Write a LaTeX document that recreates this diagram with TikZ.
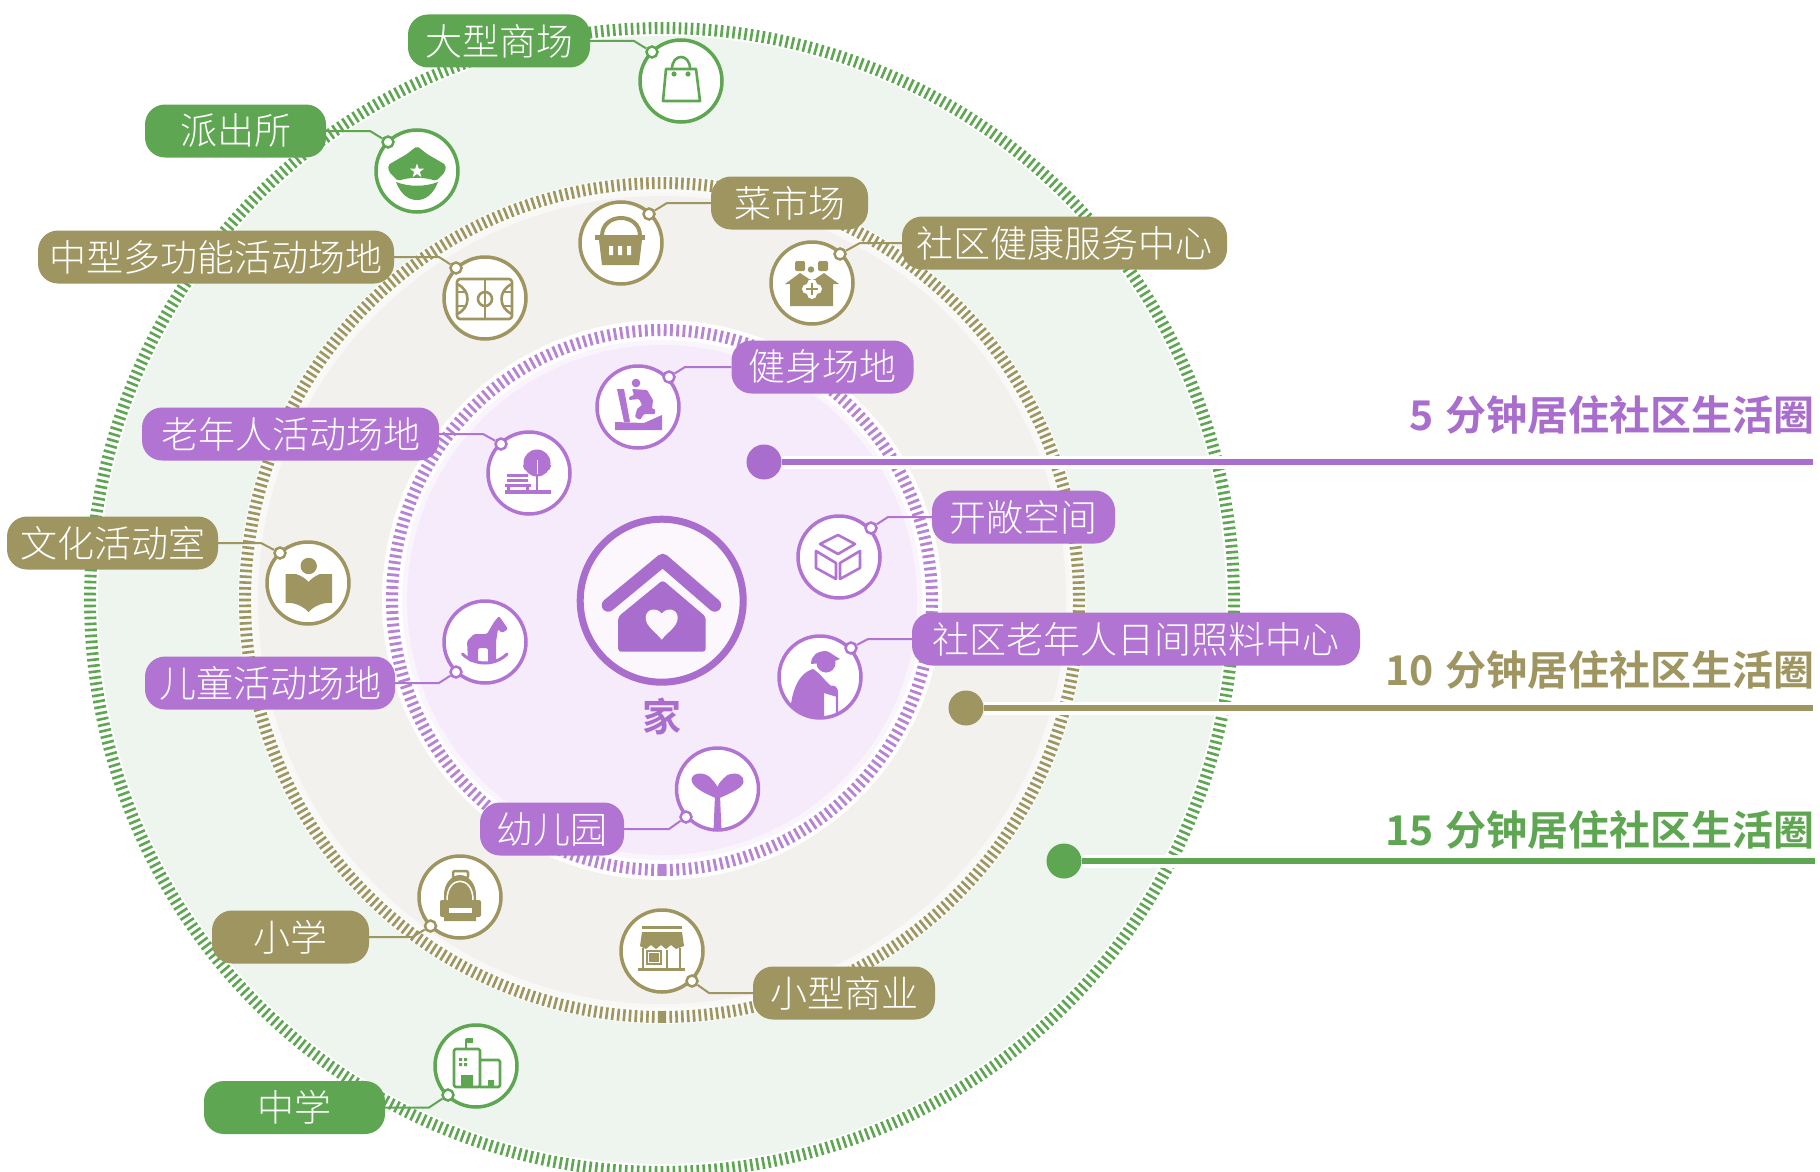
\documentclass[tikz,border=0pt]{standalone}
\usepackage{fontspec}
\newfontfamily\cjkl{Noto Sans CJK SC Light}
\newfontfamily\cjkb{Noto Sans CJK SC Bold}
\definecolor{mygreen}{HTML}{5FA652}
\definecolor{mytan}{HTML}{9E9560}
\definecolor{mypurple}{HTML}{B274D3}
\definecolor{mytitle}{HTML}{A96DCE}
\definecolor{fgreen}{HTML}{EDF5EE}
\definecolor{fmid}{HTML}{F2F1EE}
\definecolor{fin}{HTML}{F6EBFB}
\tikzset{
  pill/.style={rectangle,rounded corners=20pt,minimum height=53pt,inner sep=0pt,text=white,
    font=\cjkl\fontsize{37}{37}\selectfont},
  icon/.style={circle,draw,fill=white,line width=3.5pt,minimum size=82pt,inner sep=0pt},
  knob/.style={circle,draw,fill=white,line width=2.5pt,minimum size=11pt,inner sep=0pt},
  lnk/.style={line width=2pt},
  title/.style={anchor=east,inner sep=0pt,font=\cjkb\fontsize{41}{41}\selectfont},
  wl/.style={draw=white,line width=13pt},
  thin stroke/.style={line width=2.6pt,line join=round,line cap=round}
}
\begin{document}
\begin{tikzpicture}[x=1pt,y=-1pt]
\useasboundingbox (0,0) rectangle (1820,1172);
\clip (0,0) rectangle (1820,1172);
\fill[white] (0,0) rectangle (1820,1172);
\coordinate (c) at (662,600);
% rings
\fill[fgreen] (c) circle[radius=564pt];
\begin{scope}[shift={(c)}]
\draw[mygreen,line width=2.6pt] foreach \i in {0,...,599} {({\i*0.6}:566) -- ({\i*0.6}:578)};
\fill[fgreen!40!white] (0,0) circle[radius=424pt];
\fill[fmid!50!white] (0,0) circle[radius=408pt];
\fill[fmid] (0,0) circle[radius=404pt];
\draw[mytan,line width=2.6pt] foreach \i in {0,...,449} {({\i*0.8}:411) -- ({\i*0.8}:423)};
\draw[mytan,line width=5pt] (90:411) -- (90:423);
\fill[white] (0,0) circle[radius=280pt];
\fill[fin!50!white] (0,0) circle[radius=260pt];
\fill[fin] (0,0) circle[radius=255pt];
\draw[mytitle!85!white,line width=2.8pt] foreach \i in {0,...,269} {({\i*1.33333}:264) -- ({\i*1.33333}:276)};
\draw[mytitle!85!white,line width=5pt] (90:264) -- (90:276);
\end{scope}
% title lines
\node[circle,fill=mytitle,minimum size=35pt,inner sep=0pt] (d1) at (764,462) {};
\node[circle,fill=mytan,minimum size=35pt,inner sep=0pt] (d2) at (966,708) {};
\node[circle,fill=mygreen,minimum size=35pt,inner sep=0pt] (d3) at (1064,861) {};
\coordinate (e1) at (1813,462);
\coordinate (e2) at (1813,708);
\coordinate (e3) at (1815,861);
\draw[wl] (d1.east) -- (e1);
\draw[wl] (d2.east) -- (e2);
\draw[wl] (d3.east) -- (e3);
\draw[mytitle,line width=6pt] (d1.east) -- (e1);
\draw[mytan,line width=6pt] (d2.east) -- (e2);
\draw[mygreen,line width=6pt] (d3.east) -- (e3);
\node[title,text=mytitle] (t1) at (1815,415) {5\hspace{12pt}分钟居住社区生活圈};
\node[title,text=mytan] (t2) at (1815,670) {10\hspace{12pt}分钟居住社区生活圈};
\node[title,text=mygreen] (t3) at (1815,830) {15\hspace{12pt}分钟居住社区生活圈};
% icon circles
\foreach \n/\x/\y/\col in {i1/681/81/mygreen,i2/417/171/mygreen,i3/485/298/mytan,i4/621/243/mytan,i5/812/283/mytan,i6/638/407/mypurple,i7/529/473/mypurple,i8/839/557/mypurple,i9/820/677/mypurple,i10/717.5/789/mypurple,i11/460/897/mytan,i12/662/951/mytan,i13/476/1066/mygreen,i14/308/583/mytan,i15/485/642/mypurple}
  \node[icon,draw=\col] (\n) at (\x,\y) {};
% knobs
\foreach \n/\x/\y/\col in {k1/652/52/mygreen,k2/388/142/mygreen,k3/456/268/mytan,k4/649/214/mytan,k5/840/254/mytan,k6/669/377/mypurple,k7/501/444/mypurple,k8/871/528/mypurple,k9/851/648/mypurple,k10/686/817/mypurple,k11/430.5/926/mytan,k12/692/981/mytan,k13/448/1095/mygreen,k14/280/553/mytan,k15/456/672/mypurple}
  \node[knob,draw=\col] (\n) at (\x,\y) {};
% pills
\node[pill,fill=mygreen,minimum width=182pt] (l1) at (499,41) {大型商场};
\node[pill,fill=mygreen,minimum width=181pt] (l2) at (235.5,131) {派出所};
\node[pill,fill=mytan,minimum width=356pt] (l3) at (216,257) {中型多功能活动场地};
\node[pill,fill=mytan,minimum width=157pt] (l4) at (789.5,203) {菜市场};
\node[pill,fill=mytan,minimum width=325pt] (l5) at (1064.5,243) {社区健康服务中心};
\node[pill,fill=mypurple,minimum width=182pt] (l6) at (822.5,367) {健身场地};
\node[pill,fill=mypurple,minimum width=297pt] (l7) at (290.5,434) {老年人活动场地};
\node[pill,fill=mypurple,minimum width=183pt] (l8) at (1023.5,517) {开敞空间};
\node[pill,fill=mypurple,minimum width=448pt] (l9) at (1136,639) {社区老年人日间照料中心};
\node[pill,fill=mypurple,minimum width=144pt] (l10) at (552,829) {幼儿园};
\node[pill,fill=mytan,minimum width=157pt] (l11) at (290.5,937) {小学};
\node[pill,fill=mytan,minimum width=182pt] (l12) at (844,993) {小型商业};
\node[pill,fill=mygreen,minimum width=181pt] (l13) at (294.5,1107.5) {中学};
\node[pill,fill=mytan,minimum width=211pt] (l14) at (112.5,543) {文化活动室};
\node[pill,fill=mypurple,minimum width=250pt] (l15) at (270,683) {儿童活动场地};
% connectors
\coordinate (b1) at (634,41);
\coordinate (b2) at (370,131);
\coordinate (b3) at (439,257);
\coordinate (b4) at (667,203);
\coordinate (b5) at (860,243);
\coordinate (b6) at (685,367);
\coordinate (b7) at (483,434);
\coordinate (b8) at (888,517);
\coordinate (b9) at (868,639);
\coordinate (b10) at (669,829);
\coordinate (b11) at (412.5,937);
\coordinate (b12) at (709,993);
\coordinate (b13) at (429,1107.5);
\coordinate (b14) at (261,543);
\coordinate (b15) at (439,683);
\draw[lnk,mygreen] (l1.east) -- (b1) -- (k1);
\draw[lnk,mygreen] (l2.east) -- (b2) -- (k2);
\draw[lnk,mytan] (l3.east) -- (b3) -- (k3);
\draw[lnk,mytan] (l4.west) -- (b4) -- (k4);
\draw[lnk,mytan] (l5.west) -- (b5) -- (k5);
\draw[lnk,mypurple] (l6.west) -- (b6) -- (k6);
\draw[lnk,mypurple] (l7.east) -- (b7) -- (k7);
\draw[lnk,mypurple] (l8.west) -- (b8) -- (k8);
\draw[lnk,mypurple] (l9.west) -- (b9) -- (k9);
\draw[lnk,mypurple] (l10.east) -- (b10) -- (k10);
\draw[lnk,mytan] (l11.east) -- (b11) -- (k11);
\draw[lnk,mytan] (l12.west) -- (b12) -- (k12);
\draw[lnk,mygreen] (l13.east) -- (b13) -- (k13);
\draw[lnk,mytan] (l14.east) -- (b14) -- (k14);
\draw[lnk,mypurple] (l15.east) -- (b15) -- (k15);
% home
\node[circle,draw=mytitle,fill=fin!40!white,line width=7pt,minimum size=163pt,inner sep=0pt] (home) at (661.7,600.7) {};
\node[inner sep=0pt,text=mytitle,font=\cjkb\fontsize{39}{39}\selectfont] (homet) at (661.7,716.7) {家};
\begin{scope}[shift={(home.center)}]
\draw[mytitle,line width=13pt,line cap=round,line join=round] (-53.5,4.5) -- (1,-40.5) -- (53,4.5);
\fill[mytitle,rounded corners=3pt] (-43.5,16) -- (1,-20.5) -- (44,16) -- (44,51) -- (-43.5,51) -- cycle;
\fill[fin!40!white] (0,39) .. controls (-6,31) and (-16,26) .. (-16,17) .. controls (-16,8) and (-5,6) .. (0,13) .. controls (5,6) and (16,8) .. (16,17) .. controls (16,26) and (6,31) .. (0,39) -- cycle;
\end{scope}
% 1 bag
\begin{scope}[shift={(i1.center)},mygreen]
\draw[thin stroke] (-15,-12) -- (15,-12) -- (19,20) -- (-18,20) -- cycle;
\draw[thin stroke] (-9,-12) .. controls (-9,-28) and (9,-28) .. (9,-12);
\fill (-7,-7) circle[radius=2.6pt] (7,-7) circle[radius=2.6pt];
\end{scope}
% 2 police hat
\begin{scope}[shift={(i2.center)},mygreen]
\fill[rounded corners=2pt] (-29,-6) -- (-10,-17) -- (0,-25) -- (10,-17) -- (29,-6) -- (28,1) -- (19,10) .. controls (8,6) and (-8,6) .. (-19,10) -- (-28,1) -- cycle;
\fill (-21,11) .. controls (-8,16) and (8,16) .. (21,11) .. controls (16,24) and (8,29) .. (0,29) .. controls (-8,29) and (-16,24) .. (-21,11) -- cycle;
\fill[white] (-90:7.5) -- (-54:3) -- (-18:7.5) -- (18:3) -- (54:7.5) -- (90:3) -- (126:7.5) -- (162:3) -- (198:7.5) -- (234:3) -- cycle;
\end{scope}
% 3 court
\begin{scope}[shift={(i3.center)},mytan]
\draw[thin stroke,rounded corners=3pt] (-28,-19) rectangle (27,21);
\draw[thin stroke] (0,-19) -- (0,21);
\draw[thin stroke] (0,1) circle[radius=7pt];
\draw[thin stroke] (-28,-14) .. controls (-14,-8) and (-14,10) .. (-28,16);
\draw[thin stroke] (27,-14) .. controls (13,-8) and (13,10) .. (27,16);
\draw[thin stroke] (-28,-6) -- (-19,-6) (-28,8) -- (-19,8) (27,-6) -- (18,-6) (27,8) -- (18,8);
\end{scope}
% 4 basket
\begin{scope}[shift={(i4.center)},mytan]
\draw[line width=4pt] (-19,-7) .. controls (-19,-31) and (19,-31) .. (19,-7);
\fill (-26,-8) rectangle (24,-3);
\fill (-22,-3) -- (21,-3) -- (18,22) -- (-19,22) -- cycle;
\fill[white] (-12,3) rectangle (-8,12) (-3,3) rectangle (1,12) (6,3) rectangle (10,12);
\end{scope}
% 5 health
\begin{scope}[shift={(i5.center)},mytan]
\fill[rounded corners=1.5pt] (-17,-22) rectangle (-7,-12) (6,-22) rectangle (16,-12);
\fill (-1,-13.5) circle[radius=3.2pt];
\fill (-27,1) -- (-12,-10) -- (-3,-4) -- (3,-4) -- (12,-10) -- (27,1) -- (21,1) -- (21,23) -- (-22,23) -- (-22,1) -- cycle;
\fill[white] (-5,6) circle[radius=5pt] (5,6) circle[radius=5pt] (0,1) circle[radius=5pt] (0,11) circle[radius=5pt];
\draw[mytan,line width=2.4pt] (-6,6) -- (6,6) (0,0) -- (0,12);
\end{scope}
% 6 fitness
\begin{scope}[shift={(i6.center)},mypurple]
\fill (-2,-24) circle[radius=4.3pt];
\fill[rounded corners=1pt] (-6,-18) -- (9,-17) -- (15,-7) -- (14,2) -- (17,2) -- (17,7) -- (6,7) -- (2,13) -- (-3,10) -- (-1,2) -- (4,-2) -- (1,-8) -- (-9,-7) -- (-9,-10) -- (-4,-12) -- cycle;
\fill (-21,-18) -- (-14,-18) -- (-8,15) -- (-14,15) -- cycle;
\fill (-23,23) -- (24,23) -- (24,8) -- (6,16) -- (-23,15) -- cycle;
\end{scope}
% 7 bench and tree
\begin{scope}[shift={(i7.center)},mypurple]
\fill (8,-10) circle[radius=13.5pt] (-1,-7) circle[radius=5pt] (17,-7) circle[radius=5pt];
\draw[line width=2.5pt] (8,-10) -- (8,19);
\draw[white,line width=1pt] (8,-13) -- (8,1);
\fill (-24,17) rectangle (22,21);
\fill (-22,1) rectangle (-1,3.8) (-22,6) rectangle (-1,8.8) (-24,11) rectangle (2,13.8) (-22,13) rectangle (-19,18) (-3,13) rectangle (0,18);
\end{scope}
% 8 cube
\begin{scope}[shift={(i8.center)},mypurple]
\draw[thin stroke] (-1,-22) -- (16,-13) -- (-1,-3) -- (-19,-13) -- cycle;
\draw[thin stroke] (-23,-6) -- (-3,6) -- (-3,22) -- (-23,11) -- cycle;
\draw[thin stroke] (1,6) -- (21,-6) -- (21,11) -- (1,22) -- cycle;
\end{scope}
% 9 elder
\begin{scope}[shift={(i9.center)},mypurple]
\begin{scope}
\clip (0,0) circle[radius=40pt];
\fill (-30,42) .. controls (-30,20) and (-24,-3) .. (-7,-8) .. controls (0,-4) and (5,4) .. (10,8) -- (17,12) -- (17,20) -- (4,16) -- (4,42) -- cycle;
\draw[line width=2.2pt] (10,11) .. controls (14,8) and (17,11) .. (17,16) -- (17,40);
\end{scope}
\fill (6,-14) circle[radius=9.5pt];
\fill (-9,-13) .. controls (-9,-22) and (-2,-26) .. (6,-26) .. controls (10,-25) and (13,-22) .. (20,-18) -- (12,-15) -- cycle;
\end{scope}
% 10 sprout
\begin{scope}[shift={(i10.center)},mypurple]
\begin{scope}
\clip (0,0) circle[radius=40pt];
\fill (-4,42) -- (-2.5,6) -- (2.5,6) -- (4,42) -- cycle;
\end{scope}
\fill (0,10) .. controls (-8,6) and (-25,0) .. (-26,-9) .. controls (-26,-17) and (-12,-18) .. (-6,-10) .. controls (-3,-7) and (-1,-4) .. (0,-2) .. controls (1,-6) and (5,-10) .. (10,-14) .. controls (20,-18) and (27,-13) .. (26,-7) .. controls (25,0) and (8,6) .. (0,10) -- cycle;
\end{scope}
% 11 backpack
\begin{scope}[shift={(i11.center)},mytan]
\draw[line width=2.5pt,rounded corners=2pt] (-7,-26) rectangle (8,-19);
\fill (-16,24) -- (-16,-2) .. controls (-16,-14) and (-8,-22) .. (0,-22) .. controls (8,-22) and (16,-14) .. (16,-2) -- (16,24) -- cycle;
\fill[rounded corners=2pt] (-20,3) rectangle (-14,20) (14,3) rectangle (21,20);
\draw[white,line width=1.5pt] (-13,3) .. controls (-13,-22) and (13,-22) .. (13,3);
\fill[white] (-11.5,11) rectangle (12,15.5);
\end{scope}
% 12 shop
\begin{scope}[shift={(i12.center)},mytan]
\fill (-20,-25) rectangle (20,-22);
\fill (-20,-19) -- (20,-19) -- (22,-5) -- (14,-2) -- (9,-6) -- (4,-2) -- (-1,-6) -- (-6,-2) -- (-11,-6) -- (-16,-2) -- (-22,-5) -- cycle;
\draw[line width=2.5pt] (-19,-3) -- (-19,17) (18,-3) -- (18,17) (5,-1) -- (5,17);
\fill (-13,2) rectangle (-3,11);
\draw[line width=1.5pt] (-15,0) rectangle (-1,13);
\fill (-24,16.5) rectangle (23,19.5);
\end{scope}
% 13 school
\begin{scope}[shift={(i13.center)},mygreen]
\draw[thin stroke,rounded corners=1.5pt] (4,21) -- (-22,21) -- (-22,-17) -- (4,-17) -- cycle;
\draw[thin stroke,rounded corners=1.5pt] (4,-6) -- (24,-6) -- (24,21) -- (4,21);
\draw[line width=2pt] (-10,-17) -- (-10,-27);
\fill (-10,-28) rectangle (-3,-23);
\fill (-15,9) rectangle (-3,21) (12,14) rectangle (18,21);
\fill (-17,-8) rectangle (-14,-5) (-12,-8) rectangle (-9,-5) (-17,-3) rectangle (-14,0) (-12,-3) rectangle (-9,0);
\end{scope}
% 14 book
\begin{scope}[shift={(i14.center)},mytan]
\fill (0.7,-17) circle[radius=8.2pt];
\fill (-22.5,-9) -- (-12,-9) .. controls (-6,-7) and (-2,-4) .. (0.5,-1) .. controls (3,-4) and (7,-7) .. (12,-9) -- (24,-9) -- (24,20) .. controls (15,19) and (6,23) .. (0.5,29) .. controls (-5,23) and (-14,19) .. (-22.5,20) -- cycle;
\end{scope}
% 15 rocking horse
\begin{scope}[shift={(i15.center)},mypurple]
\draw[line width=3pt,line cap=round] (-22.5,12) .. controls (-10,24) and (10,24) .. (22,12);
\fill[rounded corners=1.5pt] (-17,19) -- (-18,-1) -- (-11,-8) -- (2,-8) -- (9,-20) -- (14,-26) -- (23,-13) -- (17,-9) -- (13,-13) -- (11,0) -- (11,19) -- (3,21) -- (3,6) -- (-7,6) -- (-7,21) -- cycle;
\end{scope}
\end{tikzpicture}
\end{document}
